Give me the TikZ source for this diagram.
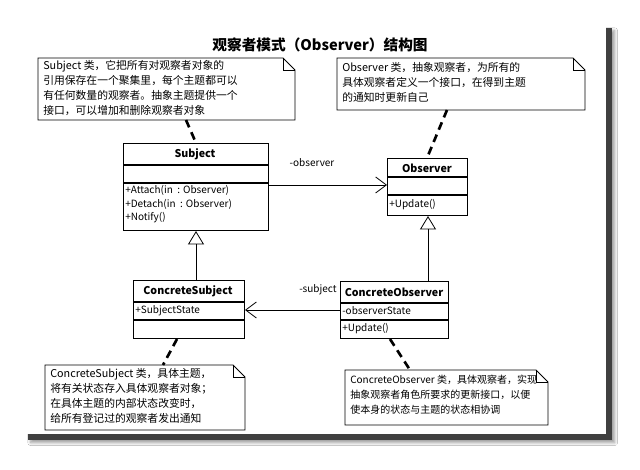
\documentclass[tikz,border=0pt]{standalone}
\usepackage{fontspec}
\setmainfont{Noto Sans CJK SC}
\usetikzlibrary{arrows.meta,shadows.blur}
\begin{document}
\begin{tikzpicture}[x=0.75pt,y=-0.75pt,
  box/.style={draw,line width=0.8pt,anchor=north west,inner sep=0pt},
  txt/.style={anchor=west,inner sep=0pt,font=\fontsize{7.5}{9}\selectfont},
  ntxt/.style={anchor=north west,inner sep=0pt,align=left,font=\fontsize{8.1}{11.2}\selectfont},
  note/.style={draw,line width=0.7pt,fill=white},
  dashline/.style={line width=2pt,dash pattern=on 6pt off 4pt},
  assoc/.style={line width=0.6pt,-{Straight Barb[length=8pt,width=12pt]}},
  gen/.style={line width=0.6pt,-{Triangle[open,length=10pt,width=12pt]}}]
\useasboundingbox (0,0) rectangle (640,470);
\fill[white] (0,0) rectangle (640,470);
\fill[black!75,blur shadow={shadow xshift=2pt,shadow yshift=-2pt,shadow blur steps=8}] (28,28) rectangle (612,440);
\fill[white] (26,26) rectangle (606,434);
\node[font=\bfseries\fontsize{11}{13}\selectfont] (title) at (320,45) {观察者模式（Observer）结构图};

% notes
\draw[note] (38,58) -- (283,58) -- (295,70) -- (295,120) -- (38,120) -- cycle;
\draw[line width=0.7pt] (283,58) -- (283,70) -- (295,70);
\node[ntxt] (n1) at (43,60) {Subject 类，它把所有对观察者对象的\\引用保存在一个聚集里，每个主题都可以\\有任何数量的观察者。抽象主题提供一个\\接口，可以增加和删除观察者对象};
\coordinate (n1b) at (186,120);

\draw[note] (337,58) -- (573,58) -- (585,70) -- (585,110) -- (337,110) -- cycle;
\draw[line width=0.7pt] (573,58) -- (573,70) -- (585,70);
\node[ntxt] (n2) at (342,62) {Observer 类，抽象观察者，为所有的\\具体观察者定义一个接口，在得到主题\\的通知时更新自己};
\coordinate (n2b) at (447,110);

\draw[note] (45,365) -- (233,365) -- (245,377) -- (245,430) -- (45,430) -- cycle;
\draw[line width=0.7pt] (233,365) -- (233,377) -- (245,377);
\node[ntxt] (n3) at (50,368) {ConcreteSubject 类，具体主题，\\将有关状态存入具体观察者对象；\\在具体主题的内部状态改变时，\\给所有登记过的观察者发出通知};
\coordinate (n3t) at (163,365);

\draw[note] (345,370) -- (536,370) -- (548,382) -- (548,425) -- (345,425) -- cycle;
\draw[line width=0.7pt] (536,370) -- (536,382) -- (548,382);
\node[ntxt,font=\fontsize{7.5}{11}\selectfont] (n4) at (350,375) {ConcreteObserver 类，具体观察者，实现\\抽象观察者角色所要求的更新接口，以便\\使本身的状态与主题的状态相协调};
\coordinate (n4t) at (410,370);

% Subject
\node[box,minimum width=108.75pt,minimum height=65.25pt] (subj) at (123,143) {};
\draw[line width=0.8pt] (123,165) -- (268,165) (123,183) -- (268,183);
\node[font=\bfseries\fontsize{8}{9}\selectfont] (subjn) at (195,154) {Subject};
\node[txt] (sm1) at (125,190) {+Attach(in \ : Observer)};
\node[txt] (sm2) at (125,204) {+Detach(in \ : Observer)};
\node[txt] (sm3) at (125,218) {+Notify()};

% Observer
\node[box,minimum width=60pt,minimum height=42.75pt] (obs) at (387,158) {};
\draw[line width=0.8pt] (387,177) -- (467,177) (387,195) -- (467,195);
\node[font=\bfseries\fontsize{8}{9}\selectfont] (obsn) at (427,168) {Observer};
\node[txt] (om1) at (389,205) {+Update()};

% ConcreteSubject
\node[box,minimum width=83.25pt,minimum height=43.5pt] (cs) at (133,280) {};
\draw[line width=0.8pt] (133,302) -- (244,302) (133,320) -- (244,320);
\node[font=\bfseries\fontsize{8}{9}\selectfont] (csn) at (188,291) {ConcreteSubject};
\node[txt] (csa) at (135,311) {+SubjectState};

% ConcreteObserver
\node[box,minimum width=81pt,minimum height=42.75pt] (co) at (340,281) {};
\draw[line width=0.8pt] (340,303) -- (448,303) (340,320) -- (448,320);
\node[font=\bfseries\fontsize{8}{9}\selectfont] (con) at (394,292) {ConcreteObserver};
\node[txt] (coa) at (342,311) {-observerState};
\node[txt] (com) at (342,329) {+Update()};

% connectors
\draw[assoc] (subj.east |- 0,185) -- (obs.west |- 0,185);
\node[font=\fontsize{7.5}{9}\selectfont] (lo) at (312,163) {-observer};
\draw[assoc] (co.west |- 0,310) -- (cs.east |- 0,310);
\node[font=\fontsize{7.5}{9}\selectfont] (ls) at (318,290) {-subject};
\draw[gen] (cs.north -| 196,0) -- (subj.south -| 196,0);
\draw[gen] (co.north -| 428,0) -- (obs.south -| 428,0);
\draw[dashline] (n1b) -- (subj.north -| 196,0);
\draw[dashline] (n2b) -- (obs.north -| 427,0);
\draw[dashline] (cs.south -| 177,0) -- (n3t);
\draw[dashline] (co.south -| 390,0) -- (n4t);
\end{tikzpicture}
\end{document}
